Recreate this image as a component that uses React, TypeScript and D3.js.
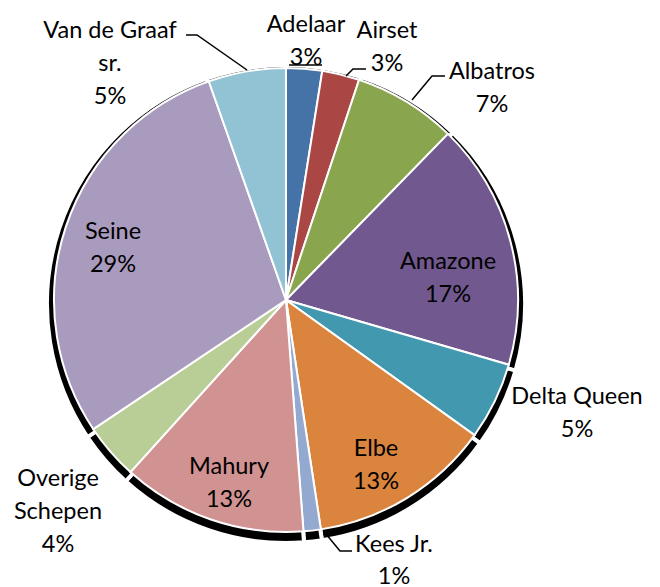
import React from "react";
import * as d3 from "d3";

const categories = [
  "Adelaar",
  "Airset",
  "Albatros",
  "Amazone",
  "Delta Queen",
  "Elbe",
  "Kees Jr.",
  "Mahury",
  "Overige Schepen",
  "Seine",
  "Van de Graaf sr.",
];
const shares = [2.5, 2.6, 7.2, 17.2, 5.4, 12.7, 1.2, 12.9, 3.9, 29.0, 5.4];
const colors = [
  "#4572A7",
  "#AA4643",
  "#89A54E",
  "#71588F",
  "#4198AF",
  "#DB843D",
  "#93A9CF",
  "#D19392",
  "#B9CD96",
  "#A99BBD",
  "#91C3D5",
];
const labelLines = [
  ["Adelaar"],
  ["Airset"],
  ["Albatros"],
  ["Amazone"],
  ["Delta Queen"],
  ["Elbe"],
  ["Kees Jr."],
  ["Mahury"],
  ["Overige", "Schepen"],
  ["Seine"],
  ["Van de Graaf", "sr."],
];

// layout (label block centers: x, y of first line)
const W = 660;
const H = 587;
const CX = 286;
const CY = 300;
const R = 232;
const LINE_H = 33;
const labelPos: [number, number][] = [
  [306, 23],
  [387, 29],
  [492, 70],
  [448, 260],
  [577, 395],
  [376, 447],
  [394, 543],
  [229, 465],
  [58, 477],
  [113, 230],
  [110, 29],
];
const leaders: ([number, number][] | null)[] = [
  [[289, 65], [322, 65]],
  [[346, 76], [353, 69], [366, 69]],
  [[412, 100], [432, 76], [445, 76]],
  null,
  null,
  null,
  [[326, 534], [340, 551], [352, 551]],
  null,
  null,
  null,
  [[186, 35], [197, 35], [247, 70]],
];

export default function App() {
  const data = categories.map((c, i) => ({ name: c, value: shares[i], i }));
  const pie = d3
    .pie<any>()
    .value((d) => d.value)
    .sort(null)
    .startAngle(0)
    .endAngle(2 * Math.PI);
  const arcs = pie(data);
  const arc = d3.arc<any>().innerRadius(0).outerRadius(R);
  const shadowArc = d3.arc<any>().innerRadius(0).outerRadius(R + 7);
  const total = d3.sum(shares);
  const line = d3.line();

  return (
    <svg
      width={W}
      height={H}
      style={{ position: "absolute", left: 0, top: 0, background: "#fff" }}
      fontFamily="Lato, 'Open Sans', sans-serif"
    >
      <g transform={`translate(${CX},${CY + 4})`}>
        {arcs.map((a, i) => (
          <path
            key={"s" + i}
            d={shadowArc(a) as string}
            fill="#000"
            stroke="#fff"
            strokeWidth={4}
          />
        ))}
      </g>
      <g transform={`translate(${CX},${CY})`}>
        {arcs.map((a, i) => (
          <path
            key={"p" + i}
            d={arc(a) as string}
            fill={colors[i]}
            stroke="#fff"
            strokeWidth={2}
          />
        ))}
      </g>
      {leaders.map((l, i) =>
        l ? (
          <path
            key={"l" + i}
            d={line(l) as string}
            fill="none"
            stroke="#000"
            strokeWidth={1.5}
          />
        ) : null
      )}
      {arcs.map((a, i) => {
        const [x, y] = labelPos[i];
        const lines = [
          ...labelLines[i],
          `${Math.round((shares[i] / total) * 100)}%`,
        ];
        return (
          <text
            key={"t" + i}
            x={x}
            y={y}
            textAnchor="middle"
            dominantBaseline="central"
            fontSize={23.5}
            fill="#000"
          >
            {lines.map((t, j) => (
              <tspan key={j} x={x} y={y + j * (i === 6 ? 32 : LINE_H)}>
                {t}
              </tspan>
            ))}
          </text>
        );
      })}
    </svg>
  );
}
